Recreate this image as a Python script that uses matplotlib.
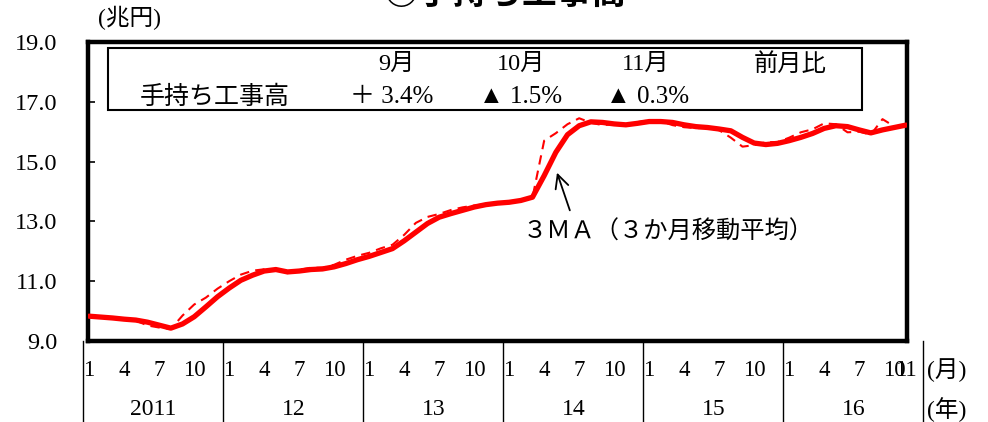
import matplotlib
matplotlib.use('Agg')
import matplotlib.pyplot as plt
from matplotlib.transforms import Affine2D, blended_transform_factory
from matplotlib.patches import Rectangle

# ---------------- data ----------------
# monthly index 0 = Jan 2011 ... 70 = Nov 2016
months = list(range(71))
actual = [9.83, 9.80, 9.76, 9.72, 9.68, 9.52, 9.45, 9.40, 9.85, 10.22,
          10.45, 10.75, 11.00, 11.22, 11.35, 11.40, 11.38, 11.27, 11.38, 11.45,
          11.45, 11.55, 11.72, 11.85, 11.95, 12.10, 12.22, 12.55, 12.95, 13.15,
          13.25, 13.38, 13.47, 13.53, 13.58, 13.62, 13.66, 13.72, 13.80, 15.70,
          15.95, 16.25, 16.45, 16.30, 16.22, 16.25, 16.20, 16.32, 16.38, 16.35,
          16.22, 16.15, 16.12, 16.12, 16.05, 15.80, 15.50, 15.55, 15.65, 15.65,
          15.80, 15.98, 16.08, 16.28, 16.25, 15.98, 16.00, 15.90, 16.42, 16.18,
          16.15]
ma3 = [9.83, 9.80, 9.77, 9.73, 9.70, 9.63, 9.53, 9.43, 9.57, 9.81,
       10.14, 10.48, 10.77, 11.03, 11.20, 11.34, 11.39, 11.31, 11.34, 11.39,
       11.41, 11.48, 11.59, 11.72, 11.83, 11.96, 12.09, 12.35, 12.64, 12.93,
       13.14, 13.26, 13.37, 13.48, 13.56, 13.61, 13.64, 13.70, 13.81, 14.53,
       15.31, 15.90, 16.20, 16.33, 16.31, 16.26, 16.23, 16.28, 16.34, 16.34,
       16.31, 16.23, 16.17, 16.14, 16.09, 16.03, 15.81, 15.62, 15.57, 15.61,
       15.70, 15.81, 15.94, 16.11, 16.20, 16.17, 16.06, 15.96, 16.06, 16.14,
       16.22]
month_tick_pos = [0, 3, 6, 9, 12, 15, 18, 21, 24, 27, 30, 33,
                  36, 39, 42, 45, 48, 51, 54, 57, 60, 63, 66, 69, 70]
month_tick_labels = ['1', '4', '7', '10'] * 6 + ['11']
years = ['2011', '12', '13', '14', '15', '16']
yticks = [9, 11, 13, 15, 17, 19]
table_months = ['9月', '10月', '11月']
table_changes = ['＋ 3.4%', '▲ 1.5%', '▲ 0.3%']

# ---------------- figure ----------------
W, H = 988, 422
NUM = ['Liberation Serif', 'Noto Sans CJK JP']
JP = ['Noto Sans CJK JP', 'DejaVu Sans']
plt.rcParams['font.family'] = NUM

fig = plt.figure(figsize=(W / 100, H / 100), dpi=100)
ax = fig.add_axes([88 / W, 1 - 341 / H, (907 - 88) / W, (341 - 42) / H])
pix = Affine2D().scale(1 / W, -1 / H).translate(0, 1) + fig.transFigure

ax.plot(months, actual, color='#ff0000', lw=1.5, dashes=(4.5, 3), zorder=3)
ax.plot(months, ma3, color='#ff0000', lw=3.8, solid_capstyle='round', zorder=4)

ax.set_xlim(-0.1, 70.1)
ax.set_ylim(9, 19)
ax.set_yticks(yticks)
ax.set_yticklabels([f'{v:.1f}' for v in yticks], fontsize=17.5)
ax.tick_params(axis='y', direction='in', length=5, width=1.2, pad=22)
ax.set_xticks(month_tick_pos)
ax.set_xticklabels(month_tick_labels, fontsize=16.5)
ax.tick_params(axis='x', length=0, pad=14)
for s in ax.spines.values():
    s.set_linewidth(3.2)
    s.set_color('black')

# year separators and labels below axis
bt = blended_transform_factory(ax.transData, ax.transAxes)
for k in range(7):
    xs = 12 * k - 0.5
    ax.plot([xs, xs], [0, -0.28], color='black', lw=1.0, transform=bt, clip_on=False)
for k, y in enumerate(years):
    ax.text(12 * k + 5.5, -0.23, y, transform=bt, ha='center', va='center', fontsize=17)

fig.text(947, 370, '(月)', transform=pix, ha='center', va='center', fontsize=17)
fig.text(947, 410, '(年)', transform=pix, ha='center', va='center', fontsize=17)
fig.text(129, 18, '(兆円)', transform=pix, ha='center', va='center', fontsize=17)

# partially visible title
fig.text(505, 4, '○手持ち工事高', transform=pix, ha='center', va='baseline',
         fontsize=25, fontweight='bold', family=JP)

# table box
fig.patches.append(Rectangle((108, 48), 862 - 108, 110 - 48, transform=pix,
                             fill=False, edgecolor='black', lw=1.5, zorder=5))
for x, t in zip([396, 521, 646], table_months):
    fig.text(x, 64, t, transform=pix, ha='center', va='center', fontsize=17.5)
fig.text(790, 64, '前月比', transform=pix, ha='center', va='center', fontsize=17.5, family=JP)
fig.text(215, 97, '手持ち工事高', transform=pix, ha='center', va='center', fontsize=18, family=JP)
for x, t in zip([392, 521, 648], table_changes):
    fig.text(x, 97, t, transform=pix, ha='center', va='center', fontsize=18)

# annotation
ax.annotate('', xy=(40.1, 14.63), xytext=(41.2, 13.37),
            arrowprops=dict(arrowstyle='->', color='black', lw=1.3,
                            mutation_scale=24, shrinkA=0, shrinkB=0))
fig.text(668, 232, '３ＭＡ（３か月移動平均）', transform=pix, ha='center', va='center',
         fontsize=17.5, family=JP)

fig.savefig('out.png', dpi=100)
